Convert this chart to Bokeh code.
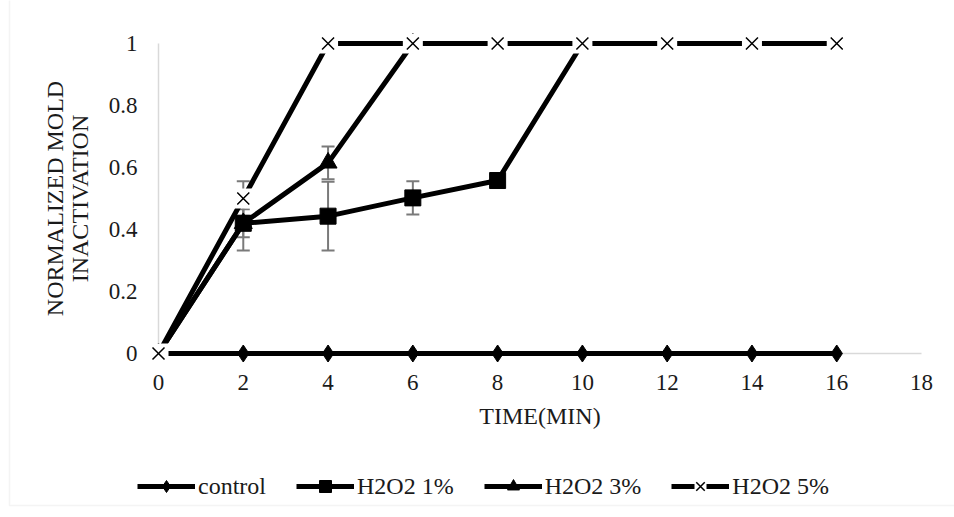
from bokeh.plotting import figure
from bokeh.models import (Legend, LegendItem, Whisker, TeeHead, ColumnDataSource,
                          FixedTicker, BoxAnnotation, Range1d, NumeralTickFormatter)
from bokeh.embed import file_html
from bokeh.resources import INLINE

# ---------------- data ----------------
time_control = [0, 2, 4, 6, 8, 10, 12, 14, 16]
control = [0, 0, 0, 0, 0, 0, 0, 0, 0]

time_1 = [0, 2, 4, 6, 8, 10]
h2o2_1 = [0, 0.42, 0.443, 0.502, 0.558, 1]
err_1 = [0, 0.088, 0.111, 0.054, 0, 0]

time_3 = [0, 2, 4, 6]
h2o2_3 = [0, 0.42, 0.615, 1]
err_3 = [0, 0.045, 0.053, 0]

time_5 = [0, 2, 4, 6, 8, 10, 12, 14, 16]
h2o2_5 = [0, 0.5, 1, 1, 1, 1, 1, 1, 1]
err_5 = [0, 0.056, 0, 0, 0, 0, 0, 0, 0]

x_ticks = [0, 2, 4, 6, 8, 10, 12, 14, 16, 18]
y_ticks = [0, 0.2, 0.4, 0.6, 0.8, 1]

labels = ["control", "H2O2 1%", "H2O2 3%", "H2O2 5%"]
x_title = "TIME(MIN)"
y_title = "NORMALIZED MOLD\nINACTIVATION"

FONT = "Liberation Serif"
W, H = 954, 517
# pixel position of the axes origin and scale (layout only)
X0_PX, Y0_PX = 158, 353
PX_PER_X, PX_PER_Y = 42.39, 310.0

x_range = Range1d(-X0_PX / PX_PER_X, (W - X0_PX) / PX_PER_X)
y_range = Range1d(-(H - Y0_PX) / PX_PER_Y, Y0_PX / PX_PER_Y)

p = figure(width=W, height=H, output_backend="svg", toolbar_location=None,
           x_range=x_range, y_range=y_range,
           min_border_left=0, min_border_right=0, min_border_top=0, min_border_bottom=0)
p.background_fill_color = "white"
p.border_fill_color = "white"
p.outline_line_color = None
p.xgrid.visible = False
p.ygrid.visible = False

for ax, ticks in ((p.xaxis[0], x_ticks), (p.yaxis[0], y_ticks)):
    ax.ticker = FixedTicker(ticks=ticks)
    ax.fixed_location = 0
    ax.bounds = (ticks[0], ticks[-1])
    ax.level = "underlay"
    ax.axis_line_color = "#d9d9d9"
    ax.axis_line_width = 1.5
    ax.major_tick_line_color = None
    ax.minor_tick_line_color = None
    ax.major_tick_out = 0
    ax.major_tick_in = 0
    ax.major_label_text_font = FONT
    ax.major_label_text_font_size = "23px"
    ax.major_label_text_color = "#1a1a1a"
    ax.axis_label_text_font = FONT
    ax.axis_label_text_font_size = "24px"
    ax.axis_label_text_font_style = "normal"
    ax.axis_label_text_color = "#1a1a1a"

p.yaxis.formatter = NumeralTickFormatter(format="0.[0]")
p.xaxis.axis_label = x_title
p.yaxis.axis_label = y_title
p.yaxis.axis_label_text_line_height = 0.95
p.xaxis.major_label_standoff = 21
p.yaxis.major_label_standoff = 21
p.xaxis.axis_label_standoff = 10
p.yaxis.axis_label_standoff = 13

# outer chart border (light gray)
p.add_layout(BoxAnnotation(left=9, right=W + 20, top=H - 12, bottom=-20,
                           left_units="canvas", right_units="canvas",
                           top_units="canvas", bottom_units="canvas",
                           fill_alpha=0, line_color="#d9d9d9", line_width=1.5,
                           level="underlay"))

# error bars
def add_err(xs, ys, es):
    xx = [x for x, e in zip(xs, es) if e > 0]
    up = [y + e for y, e in zip(ys, es) if e > 0]
    lo = [y - e for y, e in zip(ys, es) if e > 0]
    src = ColumnDataSource(dict(x=xx, upper=up, lower=lo))
    w = Whisker(base="x", upper="upper", lower="lower", source=src,
                line_color="#7a7a7a", line_width=2, level="underlay",
                upper_head=TeeHead(size=13, line_color="#7a7a7a", line_width=2),
                lower_head=TeeHead(size=13, line_color="#7a7a7a", line_width=2))
    p.add_layout(w)

add_err(time_1, h2o2_1, err_1)
add_err(time_3, h2o2_3, err_3)
add_err(time_5, h2o2_5, err_5)

LW = 5
l0 = p.line(time_control, control, line_color="black", line_width=LW, line_join="round")
m0 = p.scatter(time_control, control, marker="diamond", size=17, fill_color="black", line_color="black")
l1 = p.line(time_1, h2o2_1, line_color="black", line_width=LW, line_join="round")
m1 = p.scatter(time_1, h2o2_1, marker="square", size=16, fill_color="black", line_color="black")
l3 = p.line(time_3, h2o2_3, line_color="black", line_width=LW, line_join="round")
m3 = p.scatter(time_3, h2o2_3, marker="triangle", size=18, fill_color="black", line_color="black")
l5 = p.line(time_5, h2o2_5, line_color="black", line_width=LW, line_join="round")
b5 = p.scatter(time_5, h2o2_5, marker="square", size=20, fill_color="white", line_color=None)
m5 = p.scatter(time_5, h2o2_5, marker="x", size=17, line_color="black", line_width=1.5)

legend = Legend(items=[LegendItem(label=labels[0], renderers=[l0, m0]),
                       LegendItem(label=labels[1], renderers=[l1, m1]),
                       LegendItem(label=labels[2], renderers=[l3, m3]),
                       LegendItem(label=labels[3], renderers=[l5, b5, m5])],
                orientation="horizontal", location=(137, 16),
                padding=0, margin=0, spacing=30, glyph_width=58, glyph_height=30,
                label_standoff=3, label_text_font=FONT, label_text_font_size="24px",
                label_text_color="#1a1a1a", border_line_color=None,
                background_fill_alpha=0)
p.add_layout(legend)

open("out.html", "w").write(file_html(p, INLINE))
